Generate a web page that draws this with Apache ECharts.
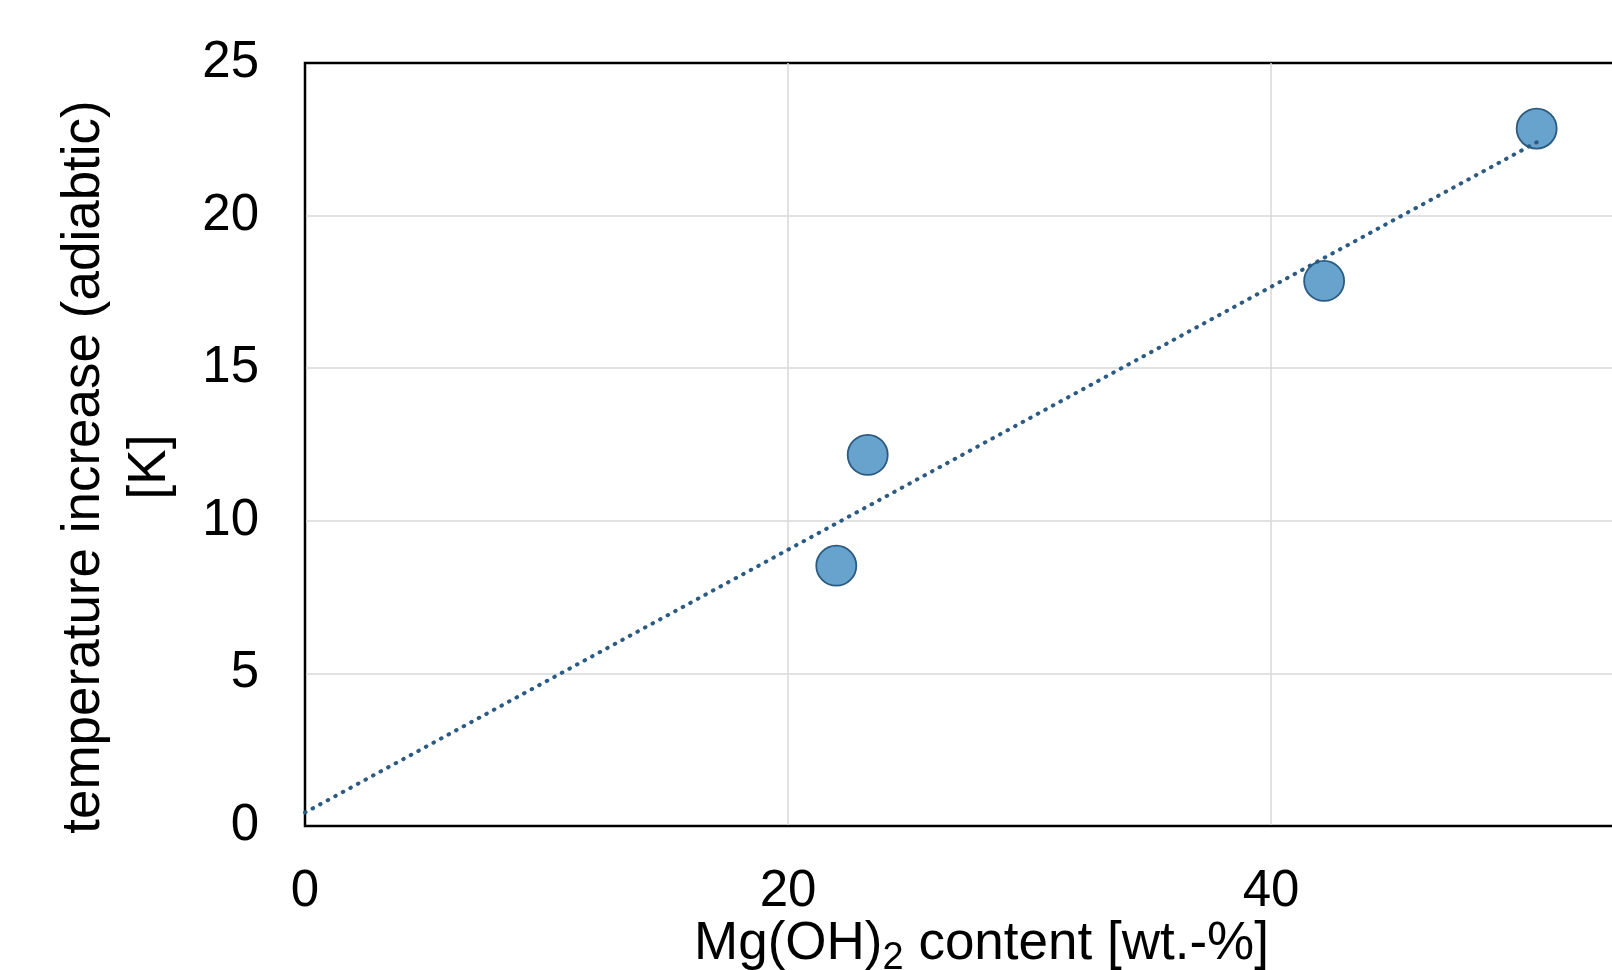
<!DOCTYPE html>
<html>

<head>
    <meta charset="UTF-8">
    <script src="https://cdn.jsdelivr.net/npm/echarts@6/dist/echarts.min.js"></script>
</head>

<body style="margin:0; background-color:#ffffff;">
    <div id="main" style="height:970px;width:1612px"></div>
    <script type="text/javascript">
        // data
        var mgContent = [22.0, 23.3, 42.2, 51.0];      // Mg(OH)2 content [wt.-%]
        var tempRise = [8.53, 12.16, 17.86, 22.85];    // temperature increase [K]
        var xTicks = [0, 20, 40, 60];
        var yTicks = [0, 5, 10, 15, 20, 25];

        // linear trendline (least squares), drawn from 0 to the last point
        function fitLine(xs, ys) {
            var n = xs.length, mx = 0, my = 0, sxy = 0, sxx = 0;
            for (var i = 0; i < n; i++) { mx += xs[i]; my += ys[i]; }
            mx /= n; my /= n;
            for (var i = 0; i < n; i++) {
                sxy += (xs[i] - mx) * (ys[i] - my);
                sxx += (xs[i] - mx) * (xs[i] - mx);
            }
            var k = sxy / sxx;
            return { k: k, b: my - k * mx };
        }
        var fit = fitLine(mgContent, tempRise);
        var xEnd = Math.max.apply(null, mgContent);
        var trend = [[0, fit.b], [xEnd, fit.k * xEnd + fit.b]];

        var points = [];
        for (var i = 0; i < mgContent.length; i++) points.push([mgContent[i], tempRise[i]]);

        var font = 'Liberation Sans, Arial, sans-serif';
        var myChart = echarts.init(document.getElementById('main'));

        var option = {
            animation: false,
            grid: {
                left: 305, top: 63, bottom: 144, width: 1449,
                outerBoundsMode: 'none',
                show: true, borderColor: '#000', borderWidth: 2.5
            },
            xAxis: {
                type: 'value',
                min: xTicks[0], max: xTicks[xTicks.length - 1], interval: 20,
                axisLine: { show: true, onZero: false, lineStyle: { color: '#000', width: 2 } },
                axisTick: { show: false },
                splitLine: { show: true, showMinLine: false, showMaxLine: false, lineStyle: { color: '#d9d9d9', width: 1.5 } },
                axisLabel: { color: '#000', fontSize: 51, fontFamily: font, margin: 40 },
                name: 'Mg(OH){sub|2} content [wt.-%]',
                nameLocation: 'middle',
                nameGap: 88,
                nameMoveOverlap: false,
                nameTextStyle: {
                    color: '#000', fontSize: 53, fontFamily: font, lineHeight: 60,
                    padding: [0, 96, 0, 0],
                    rich: {
                        sub: { fontSize: 38, fontFamily: font, color: '#000', padding: [30, 0, 0, 0] }
                    }
                }
            },
            yAxis: {
                type: 'value',
                min: yTicks[0], max: yTicks[yTicks.length - 1], interval: 5,
                axisLine: { show: true, lineStyle: { color: '#000', width: 2 } },
                axisTick: { show: false },
                splitLine: { show: true, showMinLine: false, showMaxLine: false, lineStyle: { color: '#d9d9d9', width: 1.5 } },
                axisLabel: { color: '#000', fontSize: 51, fontFamily: font, margin: 46 },
                name: 'temperature increase (adiabtic)\n[K]',
                nameLocation: 'middle',
                nameGap: 122,
                nameMoveOverlap: false,
                nameTextStyle: {
                    color: '#000', fontSize: 53, fontFamily: font, lineHeight: 66,
                    padding: [0, 45, 0, 0]
                }
            },
            series: [
                {
                    name: 'data',
                    type: 'scatter',
                    data: points,
                    symbolSize: 40,
                    itemStyle: { color: '#67a3cc', borderColor: '#2b5a82', borderWidth: 1.8, opacity: 1 },
                    z: 2
                },
                {
                    name: 'trend',
                    type: 'line',
                    data: trend,
                    symbol: 'none',
                    lineStyle: { color: '#2b5a82', width: 4, type: [0.6, 8], cap: 'round' },
                    z: 3
                }
            ]
        };

        myChart.setOption(option);
    </script>
</body>

</html>
